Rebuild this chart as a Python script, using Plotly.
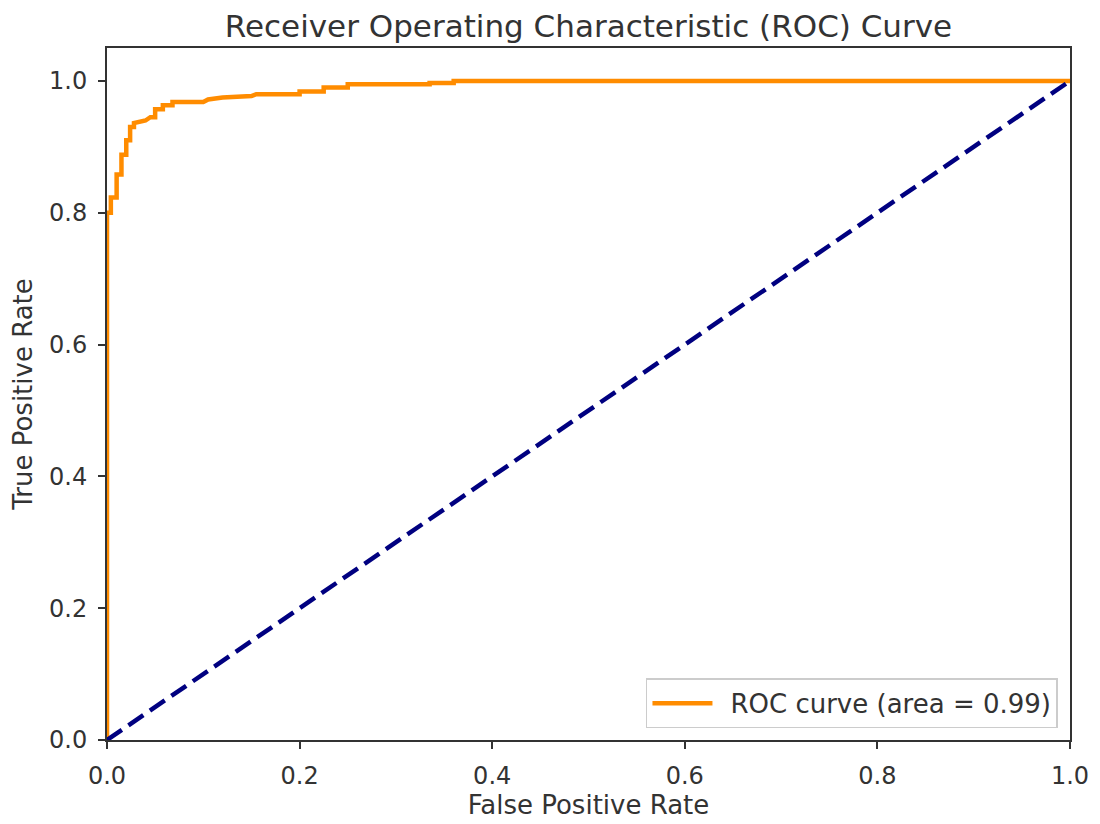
import plotly.graph_objects as go

# ROC curve points
fpr = [0.0, 0.0, 0.004, 0.004, 0.010, 0.010, 0.015, 0.015, 0.020, 0.020, 0.024, 0.024,
       0.028, 0.028, 0.040, 0.045, 0.050, 0.050, 0.058, 0.058, 0.068, 0.068, 0.100,
       0.105, 0.120, 0.150, 0.155, 0.200, 0.200, 0.225, 0.225, 0.250, 0.250, 0.335,
       0.335, 0.360, 0.360, 1.0]
tpr = [0.0, 0.800, 0.800, 0.823, 0.823, 0.858, 0.858, 0.888, 0.888, 0.910, 0.910, 0.930,
       0.930, 0.936, 0.940, 0.945, 0.945, 0.957, 0.957, 0.963, 0.963, 0.968, 0.968,
       0.972, 0.975, 0.977, 0.980, 0.980, 0.984, 0.984, 0.990, 0.990, 0.995, 0.995,
       0.997, 0.997, 1.0, 1.0]
diag = [0.0, 1.0]
roc_auc = 0.99

font = "DejaVu Sans"
axis_style = dict(
    showline=True, linecolor="#333", linewidth=2, mirror=True,
    ticks="outside", ticklen=7, tickwidth=2, tickcolor="#333",
    ticklabelstandoff=6,
    showgrid=False, zeroline=False,
    tickfont=dict(family=font, size=24, color="#333"),
    tickformat=".1f", dtick=0.2,
)

fig = go.Figure()
fig.add_trace(go.Scatter(
    x=fpr, y=tpr, mode="lines",
    line=dict(color="darkorange", width=4.5),
    name=f"\u2002ROC curve (area = {roc_auc:.2f})",
))
fig.add_trace(go.Scatter(
    x=diag, y=diag, mode="lines",
    line=dict(color="navy", width=4.5, dash="18px,8px"),
    showlegend=False,
))

fig.update_layout(
    width=1100, height=824,
    plot_bgcolor="white", paper_bgcolor="white",
    margin=dict(l=99, r=38, t=40, b=92),
    title=dict(text="Receiver Operating Characteristic (ROC) Curve",
               x=0.5, xref="paper", xanchor="center", y=0.9775, yanchor="middle",
               font=dict(family=font, size=31, color="#333")),
    xaxis=dict(axis_style, range=[0.0, 1.0],
               title=dict(text="False Positive Rate", standoff=5,
                          font=dict(family=font, size=26, color="#333"))),
    yaxis=dict(axis_style, range=[0.0, 1.05],
               title=dict(text="True Positive Rate", standoff=12,
                          font=dict(family=font, size=26, color="#333"))),
    legend=dict(x=0.9875, y=0.017, xanchor="right", yanchor="bottom",
                bgcolor="white", bordercolor="#ccc", borderwidth=1.5,
                itemwidth=60,
                font=dict(family=font, size=26, color="#333")),
)

fig.write_html("out.html")
